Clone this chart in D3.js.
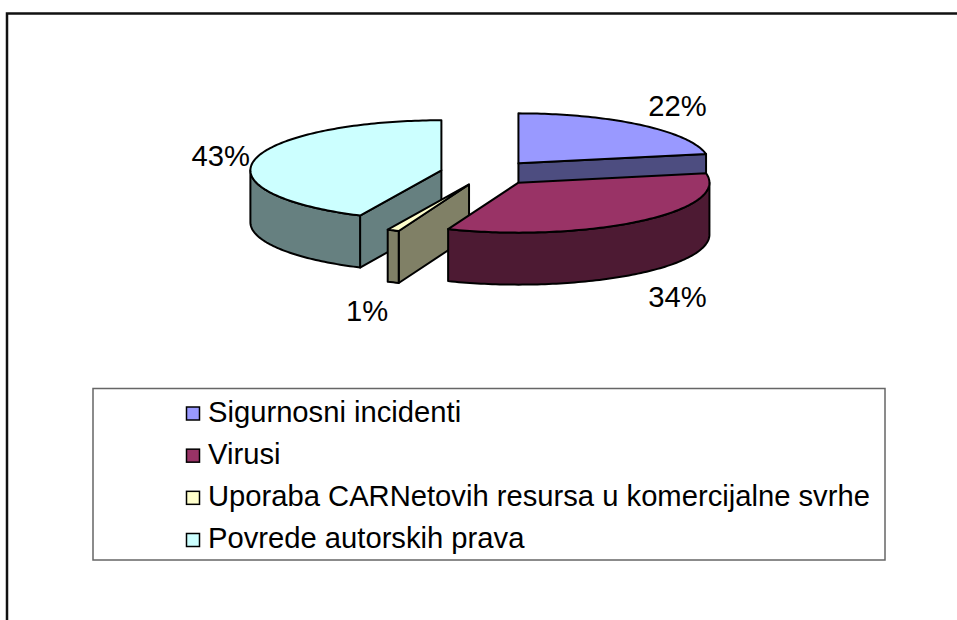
<!DOCTYPE html>
<html>
<head>
<meta charset="utf-8">
<script src="https://cdn.jsdelivr.net/npm/d3@7"></script>
<style>
  html, body { margin: 0; padding: 0; background: #fff; }
  svg { display: block; }
  text { font-family: "Liberation Sans", Arial, sans-serif; fill: #000; }
</style>
</head>
<body>
<svg id="chart" width="957" height="620"></svg>
<script>
// Incident categories and their shares (percent)
const categories = [
  "Sigurnosni incidenti",
  "Virusi",
  "Uporaba CARNetovih resursa u komercijalne svrhe",
  "Povrede autorskih prava"
];
const values = [22, 34, 1, 43];
const colors = ["#9999FF", "#993366", "#FFFFCC", "#CCFFFF"];

const svg = d3.select("#chart");
const fontSize = 29.2;

// Outer frame (runs past the right and bottom edges)
svg.append("rect")
  .attr("x", 7).attr("y", 13.5)
  .attr("width", 1000).attr("height", 700)
  .attr("fill", "none").attr("stroke", "#111").attr("stroke-width", 2.5);

// 3D pie geometry
const cx = 488, cy = 173;     // pie centre
const rx = 191, ry = 50;      // ellipse radii of the top face
const depth = 52;             // slice thickness
const explode = 0.25;         // explosion as a fraction of the radius

const pie = d3.pie().sort(null).value(d => d).startAngle(0).endAngle(2 * Math.PI);
const arcs = pie(values);

const sideColor = c => {
  const k = d3.rgb(c);
  return d3.rgb(Math.round(k.r * 0.5), Math.round(k.g * 0.5), Math.round(k.b * 0.5)).formatHex();
};

const line = d3.line();

const slices = arcs.map((a, i) => {
  const mid = (a.startAngle + a.endAngle) / 2;
  const ox = cx + explode * rx * Math.sin(mid);
  const oy = cy - explode * ry * Math.cos(mid);
  const P = (t, dz = 0) => [ox + rx * Math.sin(t), oy - ry * Math.cos(t) + dz];
  const sample = (t0, t1) => {
    const n = Math.max(2, Math.ceil((t1 - t0) / 0.02));
    return d3.range(n + 1).map(k => t0 + (t1 - t0) * k / n);
  };
  const topPts = [[ox, oy]].concat(sample(a.startAngle, a.endAngle).map(t => P(t)));
  const maxY = d3.max(topPts, p => p[1]);
  return { a, i, mid, ox, oy, P, sample, topPts, maxY };
});

const pieG = svg.append("g");
const strokeW = 2;

const face = (g, pts, fill) => g.append("path")
  .attr("d", line(pts) + "Z")
  .attr("fill", fill).attr("stroke", "#000")
  .attr("stroke-width", strokeW).attr("stroke-linejoin", "round");

// Draw back slices first
slices.slice().sort((p, q) => p.maxY - q.maxY).forEach(s => {
  const g = pieG.append("g");
  const col = colors[s.i];
  const dark = sideColor(col);
  const { a, P, ox, oy } = s;

  const radial = t => [[ox, oy], P(t), P(t, depth), [ox, oy + depth]];

  // start radial face faces the viewer when sin(start) < 0
  if (Math.sin(a.startAngle) < -1e-6) face(g, radial(a.startAngle), dark);
  // end radial face faces the viewer when sin(end) > 0
  if (Math.sin(a.endAngle) > 1e-6) face(g, radial(a.endAngle), dark);
  // outer wall: visible for angles between 90° and 270°
  const w0 = Math.max(a.startAngle, Math.PI / 2);
  const w1 = Math.min(a.endAngle, 3 * Math.PI / 2);
  if (w1 > w0) {
    const ts = s.sample(w0, w1);
    face(g, ts.map(t => P(t)).concat(ts.slice().reverse().map(t => P(t, depth))), dark);
  }
  // top face
  face(g, s.topPts, col);
});

// Percentage labels placed just outside each slice
const total = d3.sum(values);
const capH = 0.716 * fontSize;
slices.forEach(s => {
  const label = Math.round(values[s.i] / total * 100) + "%";
  const sn = Math.sin(s.mid), cs = Math.cos(s.mid);
  const anchor = cs >= 0 ? s.P(s.mid) : s.P(s.mid, depth);
  const t = svg.append("text")
    .attr("font-size", fontSize)
    .attr("text-anchor", "middle")
    .text(label);
  const w = t.node().getComputedTextLength();
  const lx = anchor[0] + (sn > 0 ? w / 2 + 8 : -(w / 2 + 5));
  const ly = anchor[1] - cs * 28 + 2;
  t.attr("x", lx).attr("y", ly + capH / 2);
});

// Legend
const legend = svg.append("g");
legend.append("rect")
  .attr("x", 93).attr("y", 388.5).attr("width", 792).attr("height", 171.5)
  .attr("fill", "#fff").attr("stroke", "#666").attr("stroke-width", 1.5);

const rowY = d3.scalePoint().domain(categories).range([421.5, 548]);
categories.forEach((c, i) => {
  const y = rowY(c);
  legend.append("rect")
    .attr("x", 186.5).attr("y", y - 14.5).attr("width", 13).attr("height", 13)
    .attr("fill", colors[i]).attr("stroke", "#000").attr("stroke-width", 1.5);
  legend.append("text")
    .attr("x", 208).attr("y", y)
    .attr("font-size", fontSize)
    .text(c);
});
</script>
</body>
</html>
